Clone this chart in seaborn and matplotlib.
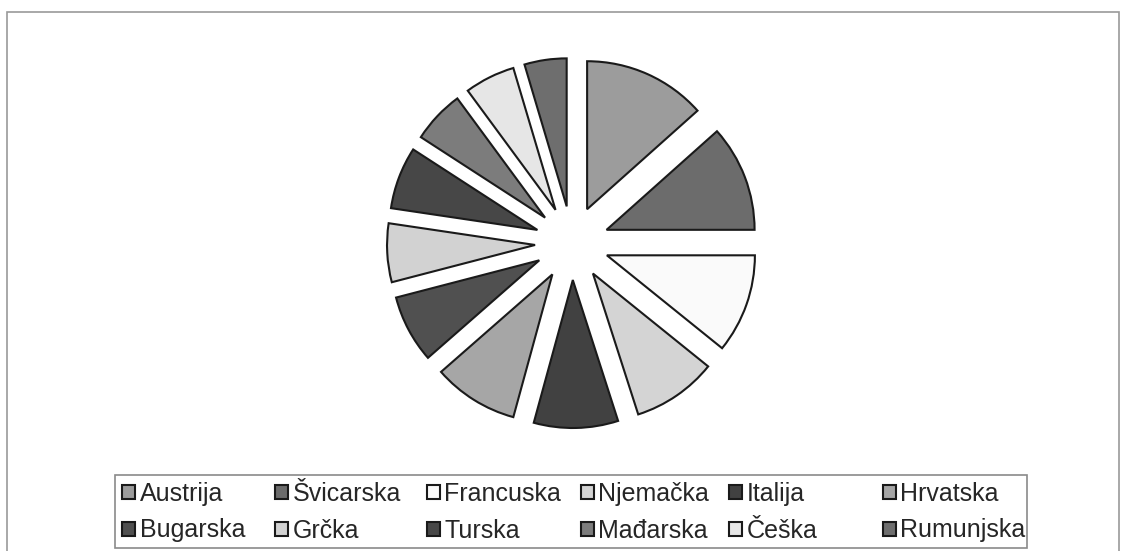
import matplotlib
matplotlib.use("Agg")
import matplotlib.pyplot as plt
from matplotlib.patches import Rectangle
import seaborn as sns

# shares (percent), clockwise from 12 o'clock
countries = ['Austrija', 'Švicarska', 'Francuska', 'Njemačka', 'Italija', 'Hrvatska',
             'Bugarska', 'Grčka', 'Turska', 'Mađarska', 'Češka', 'Rumunjska']
shares = [13.4, 11.6, 10.8, 9.25, 9.2, 9.3, 7.4, 6.4, 6.8, 5.75, 5.5, 4.6]
grays = ['#9c9c9c', '#6c6c6c', '#fafafa', '#d4d4d4', '#414141', '#a6a6a6',
         '#505050', '#d2d2d2', '#474747', '#7c7c7c', '#e6e6e6', '#6e6e6e']

sns.set_theme(style='white')
plt.rcParams['font.family'] = ['Liberation Sans', 'DejaVu Sans']

W, H = 1128, 551
fig = plt.figure(figsize=(W / 100, H / 100), dpi=100)
ax = fig.add_axes([0, 0, 1, 1])

# axes in pixel units so the pie sits where it does in the original
wedges, _ = ax.pie(shares, colors=grays, startangle=90, counterclock=False,
                   radius=148, center=(572, H - 243), explode=[37] * len(shares),
                   wedgeprops=dict(edgecolor='#1a1a1a', linewidth=1.5))
ax.set_xlim(0, W)
ax.set_ylim(0, H)
ax.set_aspect('equal')
ax.axis('off')

# outer chart frame (bottom edge runs off the page)
fig.patches.append(Rectangle((7 / W, -0.1), (1119 - 7) / W, (H - 12) / H + 0.1,
                             transform=fig.transFigure, fill=False,
                             edgecolor='#9a9a9a', lw=1.2))
# legend box
fig.patches.append(Rectangle((115 / W, 1 - 548 / H), (1027 - 115) / W, 73 / H,
                             transform=fig.transFigure, fill=False,
                             edgecolor='#8a8a8a', lw=1.2))

# legend: 6 evenly spaced columns, two rows, filled row by row
col_x = [122, 275, 427, 581, 729, 883]
for i, x in enumerate(col_x):
    fig.legend(handles=[wedges[i], wedges[i + 6]],
               labels=[countries[i], countries[i + 6]],
               loc='upper left', bbox_to_anchor=(x / W, 1 - 482 / H),
               frameon=False, fontsize=18, handlelength=0.5, handleheight=0.5,
               handletextpad=0.2, labelspacing=0.5, borderpad=0, borderaxespad=0)

fig.savefig('out.png', dpi=100, facecolor='white')
